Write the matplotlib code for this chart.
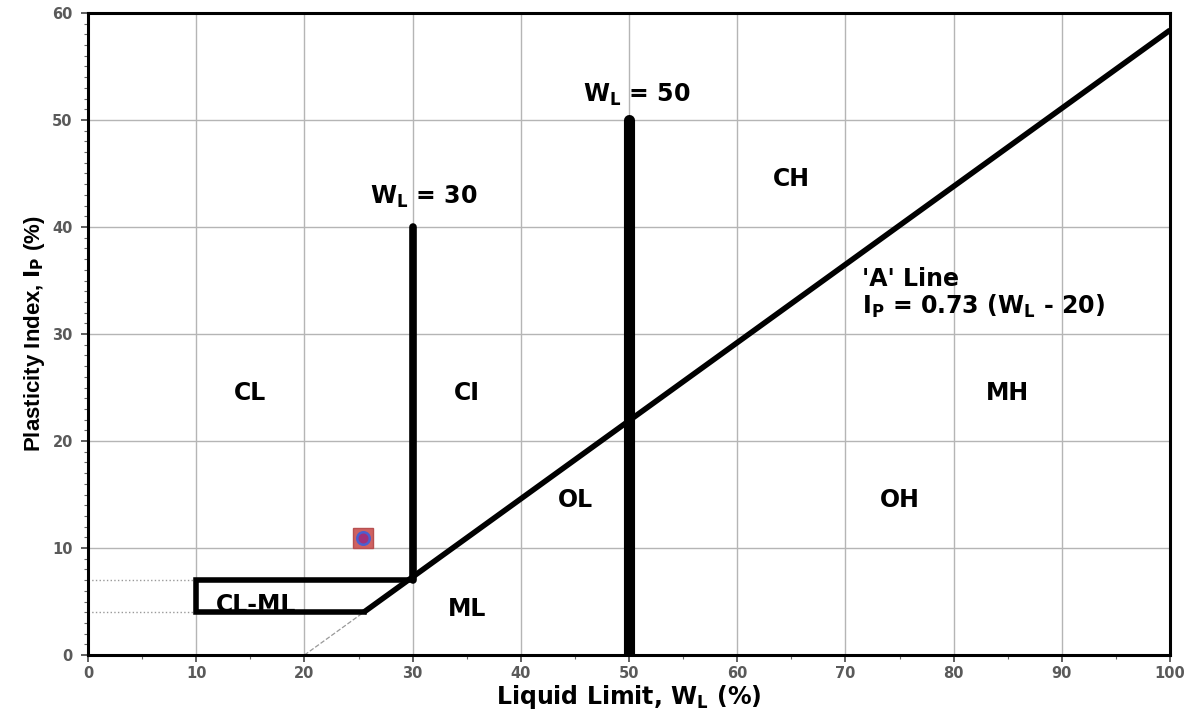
import matplotlib
matplotlib.use("Agg")
import matplotlib.pyplot as plt
from matplotlib.ticker import MultipleLocator

plt.rcParams['font.family'] = ['DejaVu Sans']
plt.rcParams['mathtext.fontset'] = 'custom'
plt.rcParams['mathtext.rm'] = 'DejaVu Sans:bold'
plt.rcParams['mathtext.it'] = 'DejaVu Sans:bold'
plt.rcParams['mathtext.bf'] = 'DejaVu Sans:bold'
plt.rcParams['mathtext.default'] = 'bf'

# ---- data ----
a_line_slope = 0.73
a_line_offset = 20
a_line_x = [25.48, 100]
a_dash_x = [20, 25.48]
clml_x = [25.48, 10, 10, 29.6]
clml_y = [4, 4, 7, 7]
wl30_x = [30, 30]
wl30_y = [7, 40]
wl50_x = [50, 50]
wl50_y = [0, 50]
ref_x = [0, 10]
ref_y = [4, 7]
sample_wl = [25.4]
sample_ip = [10.9]
zone_labels = ['CL', 'CI', 'CH', 'MH', 'OL', 'OH', 'ML', 'CL-ML']
zone_x = [15, 35, 65, 85, 45, 75, 35, 15.5]
zone_y = [24.5, 24.5, 44.5, 24.5, 14.5, 14.5, 4.3, 4.7]
x_ticks = list(range(0, 101, 10))
y_ticks = list(range(0, 61, 10))

fig = plt.figure(figsize=(11.93, 7.13), dpi=100)
ax = fig.add_axes([0.0738, 0.0813, 0.907, 0.9005])
ax.set_xlim(0, 100)
ax.set_ylim(0, 60)
ax.set_xticks(x_ticks)
ax.set_yticks(y_ticks)
ax.xaxis.set_minor_locator(MultipleLocator(5))
ax.yaxis.set_minor_locator(MultipleLocator(1))
ax.grid(True, which='major', color='#b5b5b5', linewidth=1.0)
ax.set_axisbelow(True)
for s in ax.spines.values():
    s.set_linewidth(2.2)
ax.tick_params(which='major', length=5, width=1.2, color='#444444',
               labelsize=10.5, labelcolor='#5a5a5a')
ax.tick_params(axis='x', which='major', pad=3)
ax.tick_params(axis='y', which='major', pad=6)
ax.tick_params(which='minor', length=3, width=0.8, color='#666666')
for lab in ax.get_xticklabels() + ax.get_yticklabels():
    lab.set_fontweight('bold')

# reference dotted lines
for yy in ref_y:
    ax.plot(ref_x, [yy, yy], color='#999999', linestyle=':', linewidth=1.0, zorder=2)

# A line
ax.plot(a_line_x, [a_line_slope * (x - a_line_offset) for x in a_line_x],
        color='black', linewidth=4, solid_capstyle='butt', zorder=3)
ax.plot(a_dash_x, [a_line_slope * (x - a_line_offset) for x in a_dash_x],
        color='#999999', linestyle='--', linewidth=0.9, zorder=2)

# CL-ML box
ax.plot(clml_x, clml_y, color='black', linewidth=4, solid_joinstyle='miter', zorder=3)

# WL lines
ax.plot(wl30_x, wl30_y, color='black', linewidth=5.5, solid_capstyle='round', zorder=3)
ax.plot(wl50_x, wl50_y, color='black', linewidth=8, solid_capstyle='round', zorder=3)

# sample point
ax.plot(sample_wl, sample_ip, marker='s', markersize=14, color='#cf6262',
        markeredgecolor='#b85050', linestyle='none', zorder=4)
ax.plot(sample_wl, sample_ip, marker='o', markersize=9, color='#a0307a',
        markeredgecolor='#4a5fd0', markeredgewidth=1.8, linestyle='none', zorder=5)

# zone labels
for t, x, y in zip(zone_labels, zone_x, zone_y):
    ax.text(x, y, t, ha='center', va='center', fontsize=17, fontweight='bold', zorder=6)

ax.text(31, 42.8, r'$W_L$ = 30', ha='center', va='center', fontsize=17, fontweight='bold')
ax.text(50.7, 52.3, r'$W_L$ = 50', ha='center', va='center', fontsize=17, fontweight='bold')
ax.text(71.5, 35.1, "'A' Line", ha='left', va='center', fontsize=17, fontweight='bold')
ax.text(71.5, 32.6, r"$I_P$ = 0.73 ($W_L$ - 20)", ha='left', va='center', fontsize=17, fontweight='bold')

ax.set_xlabel(r'Liquid Limit, $W_L$ (%)', fontsize=17, fontweight='bold', labelpad=1)
ax.set_ylabel(r'Plasticity Index, $I_P$ (%)', fontsize=16, fontweight='bold', labelpad=4,
              family=['Liberation Sans'])

fig.savefig('out.png', dpi=100)
